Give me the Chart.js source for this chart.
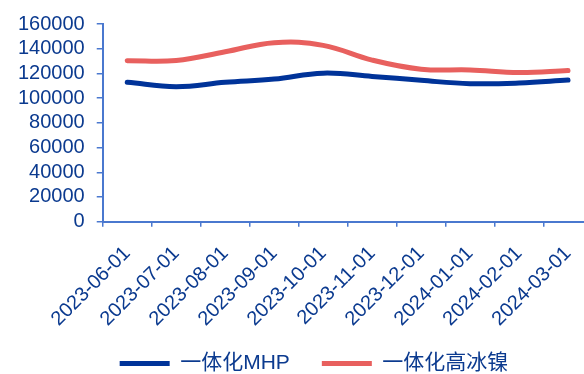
<!DOCTYPE html>
<html>
<head>
<meta charset="utf-8">
<script src="https://cdn.jsdelivr.net/npm/chart.js@4/dist/chart.umd.min.js"></script>
<style>
  html, body { margin: 0; padding: 0; background: #fff; overflow: hidden; }
  #wrap { width: 584px; height: 374px; overflow: hidden; }
  canvas { display: block; }
</style>
</head>
<body>
<div id="wrap"><canvas id="c" width="600" height="374"></canvas></div>
<script>
// ── Data ─────────────────────────────────────────────────────────────────────

const months = ["2023-06-01", "2023-07-01", "2023-08-01", "2023-09-01", "2023-10-01",
                "2023-11-01", "2023-12-01", "2024-01-01", "2024-02-01", "2024-03-01"];
const mhp    = [112800, 109300, 112800, 115400, 120200, 117600, 114400, 111700, 112200, 114600];
const hiNi   = [130300, 130500, 137500, 144900, 142700, 130800, 123400, 122800, 120700, 122300];
const yStep  = 20000;
const yMax   = 160000;

// ── Styles ───────────────────────────────────────────────────────────────────

const TXT  = "#0b3a8f";
const AXIS = "#4a78cf";
const FONT = "'Liberation Sans', Arial, 'Noto Sans CJK SC', sans-serif";

// the legend overlaps the axis label box a little in the original,
// and sits a bit right of the visible centre
const legendShift = {
  id: "legendShift",
  afterLayout(chart) {
    const lg = chart.legend;
    lg.left += 11;
    lg.right += 11;
    lg.top -= 25;
    lg.bottom -= 25;
  }
};

new Chart(document.getElementById("c"), {
  type: "line",
  data: {
    labels: months,
    datasets: [
      { label: "一体化MHP", data: mhp, borderColor: "#003399", backgroundColor: "#003399",
        borderWidth: 5, pointRadius: 0, tension: 0.4, borderCapStyle: "round" },
      { label: "一体化高冰镍", data: hiNi, borderColor: "#e8605e", backgroundColor: "#e8605e",
        borderWidth: 5, pointRadius: 0, tension: 0.4, borderCapStyle: "round" }
    ]
  },
  plugins: [legendShift],
  options: {
    responsive: false,
    animation: false,
    layout: { padding: { left: 6, top: 0, right: 0, bottom: -35 } },
    plugins: {
      tooltip: { enabled: false },
      legend: {
        position: "bottom",
        labels: {
          color: TXT,
          font: { family: FONT, size: 21 },
          usePointStyle: true,
          pointStyle: "line",
          pointStyleWidth: 50,
          boxHeight: 5,
          padding: 32
        }
      }
    },
    scales: {
      x: {
        offset: true,
        grid: { offset: true, drawOnChartArea: false, drawTicks: true, tickLength: 5, color: AXIS, lineWidth: 1.5 },
        border: { color: AXIS, width: 2 },
        ticks: { color: TXT, font: { family: FONT, size: 20 }, maxRotation: 45, minRotation: 45, padding: 15, autoSkip: false }
      },
      y: {
        min: 0,
        max: yMax,
        grid: { drawOnChartArea: false, drawTicks: true, tickLength: 6, color: AXIS, lineWidth: 1.5 },
        border: { color: AXIS, width: 2 },
        ticks: { color: TXT, font: { family: FONT, size: 20 }, padding: 12, stepSize: yStep,
                 autoSkip: false, callback: v => String(v) }
      }
    }
  }
});
</script>
</body>
</html>
